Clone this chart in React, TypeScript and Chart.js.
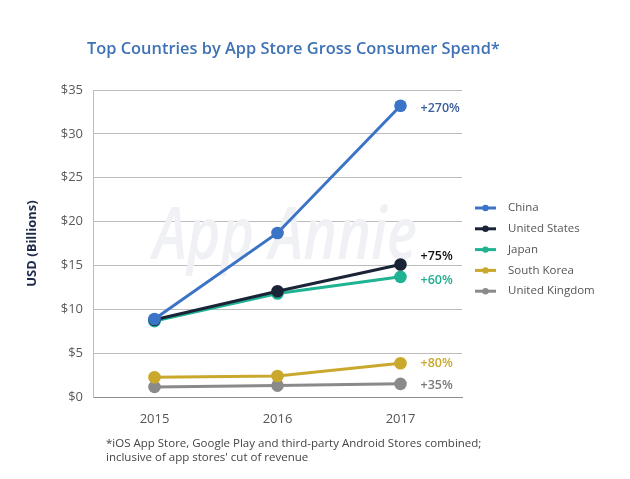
import React, { useEffect, useRef } from "react";
import { Chart, registerables } from "chart.js";

Chart.register(...registerables);

const years = ["2015", "2016", "2017"];
const countries = ["China", "United States", "Japan", "South Korea", "United Kingdom"];
const china = [8.9, 18.7, 33.2];
const unitedStates = [8.8, 12.05, 15.1];
const japan = [8.65, 11.8, 13.7];
const southKorea = [2.25, 2.4, 3.85];
const unitedKingdom = [1.15, 1.3, 1.5];
const growthLabels = ["+270%", "+75%", "+60%", "+80%", "+35%"];
const yTicks = [0, 5, 10, 15, 20, 25, 30, 35];

const colors = ["#3b73c6", "#1b2436", "#1fb394", "#c9a82c", "#8a8a8a"];
const labelColors = ["#3b5f9a", "#111111", "#1fae8f", "#c9a82c", "#7a7a7a"];
const labelDy = [3, -8, 4, 0, 2];
const FONT = "'Open Sans', sans-serif";

const overlayPlugin = {
  id: "overlay",
  beforeDatasetsDraw(chart: any) {
    const { ctx } = chart;
    ctx.save();
    ctx.font = `italic 600 72px ${FONT}`;
    ctx.fillStyle = "#f0f1f5";
    ctx.textAlign = "center";
    ctx.textBaseline = "middle";
    const text = "App Annie";
    const w = ctx.measureText(text).width;
    const sx = 264 / w;
    ctx.translate(285, 238);
    ctx.scale(sx, 1);
    ctx.fillText(text, 0, 0);
    ctx.restore();
  },
  afterDatasetsDraw(chart: any) {
    const { ctx } = chart;
    ctx.save();
    chart.data.datasets.forEach((ds: any, i: number) => {
      const meta = chart.getDatasetMeta(i);
      const pt = meta.data[meta.data.length - 1];
      ctx.font = `600 12.5px ${FONT}`;
      ctx.fillStyle = labelColors[i];
      ctx.textAlign = "left";
      ctx.textBaseline = "middle";
      ctx.fillText(growthLabels[i], pt.x + 20, pt.y + labelDy[i]);
    });
    const lx = 475;
    const ly = 208;
    chart.data.datasets.forEach((ds: any, i: number) => {
      const y = ly + i * 20.8;
      ctx.strokeStyle = ds.borderColor;
      ctx.lineWidth = 3;
      ctx.beginPath();
      ctx.moveTo(lx, y);
      ctx.lineTo(lx + 21, y);
      ctx.stroke();
      ctx.fillStyle = ds.borderColor;
      ctx.beginPath();
      ctx.arc(lx + 10.5, y, 3.2, 0, Math.PI * 2);
      ctx.fill();
      ctx.font = `11.5px ${FONT}`;
      ctx.fillStyle = "#555555";
      ctx.textAlign = "left";
      ctx.textBaseline = "middle";
      ctx.fillText(ds.label, lx + 33, y);
    });
    ctx.restore();
  },
};

export default function App() {
  const ref = useRef<HTMLCanvasElement | null>(null);
  useEffect(() => {
    if (!ref.current) return;
    const series = [china, unitedStates, japan, southKorea, unitedKingdom];
    const chart = new Chart(ref.current, {
      type: "line",
      data: {
        labels: years,
        datasets: series.map((d, i) => ({
          label: countries[i],
          data: d,
          borderColor: colors[i],
          backgroundColor: colors[i],
          borderWidth: 3,
          pointRadius: 6.3,
          pointHoverRadius: 6.3,
          pointBorderWidth: 0,
          tension: 0,
        })),
      },
      options: {
        animation: false,
        responsive: false,
        layout: { padding: { top: 90, right: 168, bottom: 0, left: 0 } },
        plugins: {
          legend: { display: false },
          tooltip: { enabled: false },
          title: { display: false },
        },
        scales: {
          x: {
            offset: true,
            grid: { display: false },
            border: { display: true, color: "#8e8e8e", width: 1 },
            ticks: { color: "#555555", font: { family: FONT, size: 13 }, padding: 6 },
            afterFit(scale: any) {
              scale.height = 82;
            },
          },
          y: {
            min: 0,
            max: 35,
            afterBuildTicks(scale: any) {
              scale.ticks = yTicks.map((v) => ({ value: v }));
            },
            grid: { color: "#bcbcbc", drawTicks: false, lineWidth: 1 },
            border: { display: true, color: "#bcbcbc" },
            ticks: {
              color: "#5a5a5a",
              font: { family: FONT, size: 13 },
              padding: 10,
              callback: (v: any) => "$" + v,
            },
            title: {
              display: true,
              text: "USD (Billions)",
              color: "#1d2a4c",
              font: { family: FONT, size: 13, weight: "bold" },
              padding: { top: 24, bottom: 0 },
            },
            afterFit(scale: any) {
              scale.width = 93;
            },
          },
        },
      },
      plugins: [overlayPlugin],
    });
    return () => chart.destroy();
  }, []);

  return (
    <div style={{ position: "absolute", left: 0, top: 0, width: 630, height: 479, background: "#fff", fontFamily: FONT }}>
      <canvas ref={ref} width={630} height={479} style={{ position: "absolute", left: 0, top: 0 }} />
      <div
        style={{
          position: "absolute",
          left: 87,
          top: 37,
          fontSize: 16.4,
          fontWeight: 600,
          color: "#3e72b4",
          whiteSpace: "nowrap",
          lineHeight: "22px",
        }}
      >
        Top Countries by App Store Gross Consumer Spend*
      </div>
      <div
        style={{
          position: "absolute",
          left: 106,
          top: 436,
          fontSize: 11.5,
          color: "#444444",
          lineHeight: "14px",
          whiteSpace: "nowrap",
        }}
      >
        *iOS App Store, Google Play and third-party Android Stores combined;
        <br />
        inclusive of app stores' cut of revenue
      </div>
    </div>
  );
}
